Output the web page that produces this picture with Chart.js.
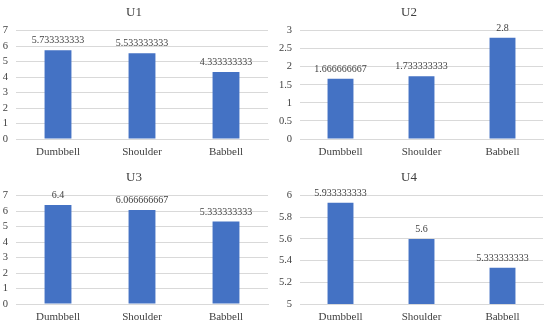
<!DOCTYPE html>
<html>
<head>
<meta charset="utf-8">
<script src="https://cdn.jsdelivr.net/npm/chart.js@4/dist/chart.umd.min.js"></script>
<style>
  html, body { margin: 0; padding: 0; background: #fff; overflow: hidden; }
  #wrap { position: relative; width: 550px; height: 328px; overflow: hidden; }
  .cell { position: absolute; }
  canvas { display: block; }
</style>
</head>
<body>
<div id="wrap">
  <div class="cell" style="left:0;top:0;"><canvas id="c1" width="275" height="164"></canvas></div>
  <div class="cell" style="left:275px;top:0;"><canvas id="c2" width="275" height="164"></canvas></div>
  <div class="cell" style="left:0;top:165px;"><canvas id="c3" width="275" height="164"></canvas></div>
  <div class="cell" style="left:275px;top:165px;"><canvas id="c4" width="275" height="164"></canvas></div>
</div>
<script>
const categories = ['Dumbbell', 'Shoulder', 'Babbell'];
const titles = ['U1', 'U2', 'U3', 'U4'];
const u1Values = [5.733333333, 5.533333333, 4.333333333];
const u2Values = [1.666666667, 1.733333333, 2.8];
const u3Values = [6.4, 6.066666667, 5.333333333];
const u4Values = [5.933333333, 5.6, 5.333333333];
const yMins = [0, 0, 0, 5];
const yMaxs = [7, 3, 7, 6];
const ySteps = [1, 0.5, 1, 0.2];

const fontFamily = '"Liberation Serif", "Times New Roman", serif';
const axisWidths = [16, 25, 16, 25];

// value labels above the bars
const barLabels = {
    id: 'barLabels',
    afterDatasetsDraw(chart) {
        const ctx = chart.ctx;
        const meta = chart.getDatasetMeta(0);
        const data = chart.data.datasets[0].data;
        ctx.save();
        ctx.font = '10px ' + fontFamily;
        ctx.fillStyle = '#404040';
        ctx.textAlign = 'center';
        ctx.textBaseline = 'middle';
        meta.data.forEach(function(bar, i) {
            ctx.fillText(String(data[i]), bar.x, bar.y - 9.5);
        });
        ctx.restore();
    }
};

function makeChart(id, idx, values) {
    new Chart(document.getElementById(id).getContext('2d'), {
        type: 'bar',
        data: {
            labels: categories,
            datasets: [{
                data: values,
                backgroundColor: '#4472C4',
                barPercentage: 0.32,
                categoryPercentage: 1
            }]
        },
        options: {
            responsive: false,
            animation: false,
            layout: { padding: { left: 0, right: 7, top: 0, bottom: 5 } },
            plugins: {
                legend: { display: false },
                tooltip: { enabled: false },
                title: {
                    display: true,
                    text: titles[idx],
                    color: '#404040',
                    font: { family: fontFamily, size: 13, weight: 'normal' },
                    padding: { top: 5, bottom: 10 }
                }
            },
            scales: {
                x: {
                    afterFit: function(scale) { scale.height = 20; },
                    grid: { display: false, drawTicks: false },
                    border: { display: true, color: '#d9d9d9' },
                    ticks: {
                        color: '#404040',
                        padding: 7,
                        font: { family: fontFamily, size: 11 }
                    }
                },
                y: {
                    min: yMins[idx],
                    max: yMaxs[idx],
                    afterFit: function(scale) { scale.width = axisWidths[idx]; },
                    grid: { color: '#d9d9d9', drawTicks: false },
                    border: { display: false },
                    ticks: {
                        stepSize: ySteps[idx],
                        autoSkip: false,
                        color: '#404040',
                        padding: 8,
                        font: { family: fontFamily, size: 10.5 },
                        callback: function(v) { return String(Number(v.toFixed(4))); }
                    }
                }
            }
        },
        plugins: [barLabels]
    });
}

makeChart('c1', 0, u1Values);
makeChart('c2', 1, u2Values);
makeChart('c3', 2, u3Values);
makeChart('c4', 3, u4Values);
</script>
</body>
</html>
